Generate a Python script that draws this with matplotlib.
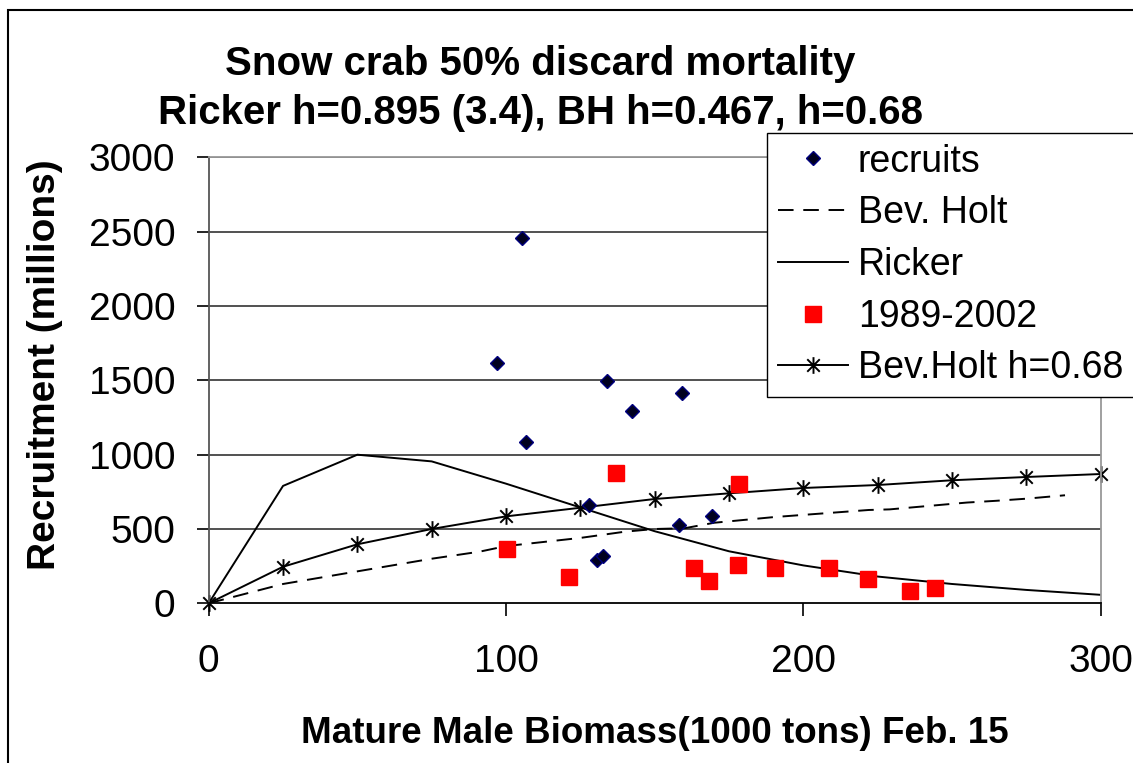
import matplotlib
matplotlib.use("Agg")
import matplotlib.pyplot as plt
from matplotlib.path import Path
from matplotlib.patches import Rectangle

plt.rcParams['font.family'] = ['Liberation Sans', 'DejaVu Sans']

# recruits (blue diamonds)
rec_x = [97, 105.4, 106.6, 127.8, 130.7, 132.5, 133.9, 142.5, 158.1, 159.2, 169.2]
rec_y = [1617, 2456, 1083, 659, 291, 316, 1498, 1296, 527, 1415, 585]

# 1989-2002 (red squares)
yr_x = [100.3, 121.2, 137.0, 163.2, 168.3, 178.0, 178.4, 190.5, 208.6, 221.8, 235.9, 244.3]
yr_y = [367, 179, 879, 240, 152, 258, 803, 240, 240, 164, 83, 103]

# Bev. Holt (dashed)
bh_x = [0, 25, 50, 75, 91, 100, 125, 140, 150, 160, 170, 190, 210, 222, 229, 255, 265, 275, 288]
bh_y = [0, 130, 215, 300, 347, 385, 440, 482, 500, 505, 542, 580, 610, 628, 632, 678, 690, 704, 727]

# Ricker (solid)
grid_x = [0, 25, 50, 75, 100, 125, 150, 175, 200, 225, 250, 275, 300]
rk_y = [0, 790, 1000, 955, 805, 645, 485, 350, 255, 180, 130, 90, 57]

# Bev.Holt h=0.68 (line with asterisks)
bh68_y = [0, 246, 397, 500, 585, 643, 702, 740, 776, 796, 828, 850, 870]

x_ticks = [0, 100, 200, 300]
y_ticks = [0, 500, 1000, 1500, 2000, 2500, 3000]

# Excel-style asterisk marker
star = Path([(0, -1), (0, 1), (-0.75, -0.75), (0.75, 0.75), (-0.75, 0.75), (0.75, -0.75)],
            [Path.MOVETO, Path.LINETO, Path.MOVETO, Path.LINETO, Path.MOVETO, Path.LINETO])

fig = plt.figure(figsize=(11.33, 7.63), dpi=100)
ax = fig.add_axes([208.7 / 1133, 1 - 603.3 / 763, 892 / 1133, 445.8 / 763])

for v in y_ticks[1:]:
    ax.axhline(v, color='#222222', lw=1.1, zorder=0)

ax.plot(rec_x, rec_y, ls='none', marker='D', ms=7.5, mfc='#000020', mec='#000080', mew=1,
        label='recruits', zorder=4)
ax.plot(bh_x, bh_y, color='black', ls=(0, (8, 5)), lw=1.4, label='Bev. Holt', zorder=2)
ax.plot(grid_x, rk_y, color='black', lw=1.4, label='Ricker', zorder=2)
ax.plot(yr_x, yr_y, ls='none', marker='s', ms=11.5, mfc='#FF0000', mec='#FF0000',
        label='1989-2002', zorder=3)
ax.plot(grid_x, bh68_y, color='black', lw=1.4, marker=star, ms=12, mew=1.4,
        label='Bev.Holt h=0.68', zorder=2, clip_on=False)

ax.set_xlim(0, 300)
ax.set_ylim(0, 3000)
ax.set_xticks(x_ticks)
ax.set_yticks(y_ticks)
ax.tick_params(axis='both', direction='out', length=9, width=1.2, labelsize=28, colors='black')
ax.tick_params(axis='y', pad=15)
ax.tick_params(axis='x', pad=20)

ax.spines['left'].set_color('#555555')
ax.spines['bottom'].set_color('black')
ax.spines['top'].set_color('#999999')
ax.spines['right'].set_color('#999999')
for s in ax.spines.values():
    s.set_linewidth(1.3)

ax.set_xlabel('Mature Male Biomass(1000 tons) Feb. 15', fontsize=26.5, fontweight='bold', labelpad=26)
ax.set_ylabel('Recruitment (millions)', fontsize=28, fontweight='bold')
ax.yaxis.set_label_coords(-(208.7 - 63) / 892, (603.3 - 365) / 445.8)

fig.text(540 / 1133, 1 - 64 / 763, 'Snow crab 50% discard mortality', fontsize=29,
         fontweight='bold', ha='center', va='center')
fig.text(540 / 1133, 1 - 113 / 763, 'Ricker h=0.895 (3.4), BH h=0.467, h=0.68', fontsize=29,
         fontweight='bold', ha='center', va='center')

leg = fig.legend(loc='upper left', bbox_to_anchor=(767 / 1133, 1 - 133 / 763), fontsize=27,
                 frameon=True, fancybox=False, framealpha=1, edgecolor='black',
                 handlelength=1.87, handletextpad=0.27, labelspacing=0.42, borderpad=0.28,
                 borderaxespad=0)
leg.get_frame().set_linewidth(1.0)

fig.patches.append(Rectangle((8 / 1133, -0.1), 1.1, 1 - 10 / 763 + 0.1, transform=fig.transFigure,
                             fill=False, lw=1.5, edgecolor='black'))

fig.savefig('out.png', dpi=100)
